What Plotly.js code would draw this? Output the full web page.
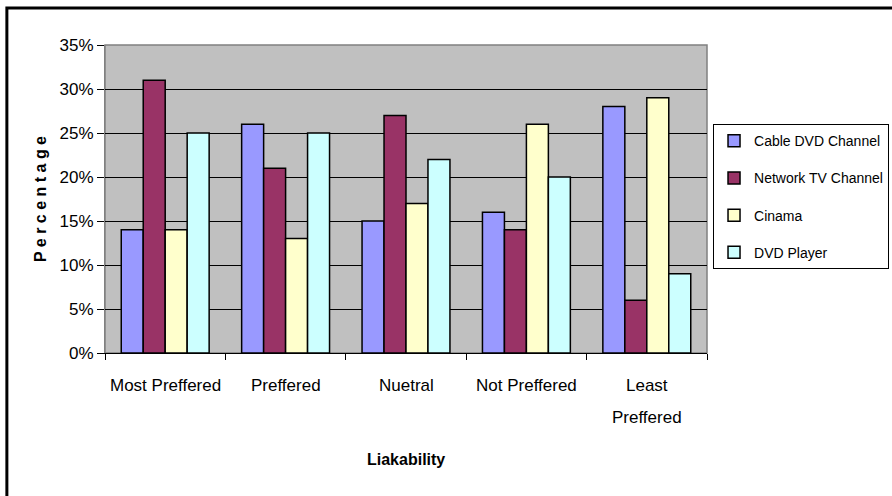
<!DOCTYPE html>
<html>
<head>
<meta charset="utf-8">
<script src="https://cdn.plot.ly/plotly-3.0.1.min.js"></script>
<style>html,body{margin:0;padding:0;background:#fff;}#chart{width:892px;height:496px;}</style>
</head>
<body>
<div id="chart"></div>
<script>
const categories = ["Most Preffered", "Preffered", "Nuetral", "Not Preffered", "Least Preffered"];
const categoryLabelLines = [["Most Preffered"], ["Preffered"], ["Nuetral"], ["Not Preffered"], ["Least", "Preffered"]];
const seriesNames = ["Cable DVD Channel", "Network TV Channel", "Cinama", "DVD Player"];
const cableDVD = [0.14, 0.26, 0.15, 0.16, 0.28];
const networkTV = [0.31, 0.21, 0.27, 0.14, 0.06];
const cinama = [0.14, 0.13, 0.17, 0.26, 0.29];
const dvdPlayer = [0.25, 0.25, 0.22, 0.20, 0.09];
const seriesValues = [cableDVD, networkTV, cinama, dvdPlayer];
const colors = ["#9999FF", "#993366", "#FFFFCC", "#CCFFFF"];
const yTickVals = [0, 0.05, 0.10, 0.15, 0.20, 0.25, 0.30, 0.35];
const yTickText = ["0%", "5%", "10%", "15%", "20%", "25%", "30%", "35%"];

const FONT = "'Liberation Sans', Arial, sans-serif";

const traces = seriesValues.map((vals, i) => ({
  type: "bar",
  name: seriesNames[i],
  x: categories,
  y: vals,
  legendgroup: "g" + i,
  marker: {color: colors[i], line: {color: "#000", width: 1.5}},
  hoverinfo: "x+y+name"
}));

// category labels drawn as annotations (to match the wide line spacing)
const catAnnotations = [];
categoryLabelLines.forEach((lines, i) => {
  lines.forEach((ln, j) => {
    catAnnotations.push({
      text: ln, xref: "x", yref: "paper", x: categories[i], y: -0.104 - j * 0.104,
      xanchor: "center", yanchor: "middle", showarrow: false,
      font: {family: FONT, size: 17, color: "#000"}
    });
  });
});

const layout = {
  width: 892, height: 496,
  margin: {l: 105, r: 185, t: 45, b: 143, autoexpand: false},
  paper_bgcolor: "#fff",
  plot_bgcolor: "#C0C0C0",
  barmode: "group",
  bargap: 0.27,
  bargroupgap: 0,
  font: {family: FONT, size: 17, color: "#000"},
  xaxis: {
    tickson: "boundaries",
    ticks: "outside", ticklen: 6, tickcolor: "#000", tickwidth: 1,
    showticklabels: false,
    showline: true, linecolor: "#000", linewidth: 1,
    showgrid: false,
    fixedrange: true
  },
  yaxis: {
    range: [0, 0.35],
    tickvals: yTickVals, ticktext: yTickText,
    ticks: "outside", ticklen: 7, tickcolor: "#000", tickwidth: 1,
    showline: true, linecolor: "#808080", linewidth: 1,
    showgrid: true, gridcolor: "#000", gridwidth: 1,
    zeroline: false,
    tickfont: {family: FONT, size: 17},
    fixedrange: true
  },
  legend: {
    x: 1.01, y: 0.743, xanchor: "left", yanchor: "top",
    bgcolor: "#fff", bordercolor: "#000", borderwidth: 1,
    font: {family: FONT, size: 14},
    tracegroupgap: 16,
    itemwidth: 30,
    itemclick: false, itemdoubleclick: false
  },
  annotations: catAnnotations.concat([
    {
      text: "<b>P e r c e n t a g e</b>",
      xref: "paper", yref: "paper",
      x: -0.108, y: 0.5, xanchor: "center", yanchor: "middle",
      textangle: -90, showarrow: false,
      font: {family: FONT, size: 16}
    },
    {
      text: "<b>Liakability</b>",
      xref: "paper", yref: "paper",
      x: 0.5, y: -0.347, xanchor: "center", yanchor: "middle",
      showarrow: false,
      font: {family: FONT, size: 16}
    }
  ]),
  shapes: [
    {type: "rect", xref: "paper", yref: "paper", x0: 0, x1: 1, y0: 0, y1: 1,
     line: {color: "#808080", width: 1.5}, fillcolor: "rgba(0,0,0,0)", layer: "below"},
    {type: "rect", xref: "paper", yref: "paper", x0: -0.163, x1: 1.5, y0: -1, y1: 1.12,
     line: {color: "#000", width: 3}, fillcolor: "rgba(0,0,0,0)"}
  ]
};

Plotly.newPlot("chart", traces, layout, {displayModeBar: false});
</script>
</body>
</html>
